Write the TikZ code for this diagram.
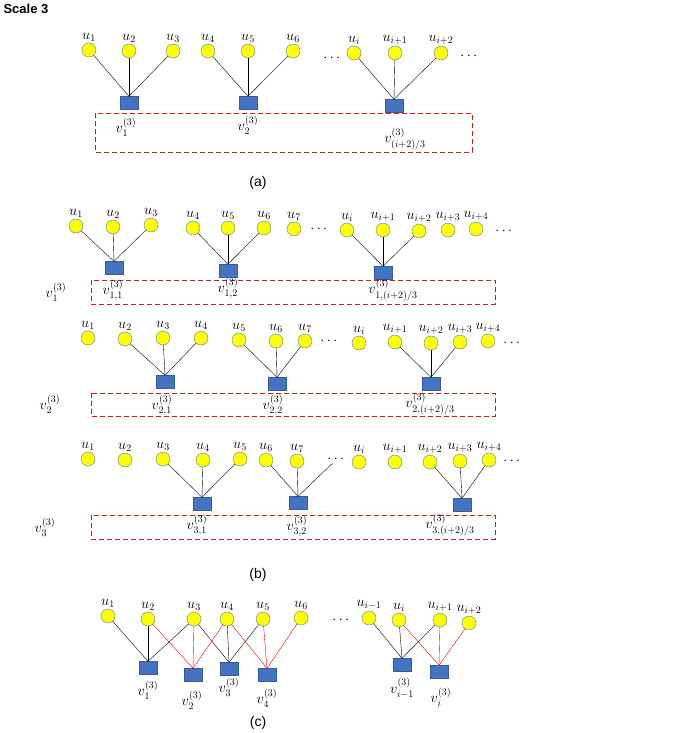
\documentclass[tikz,border=0pt]{standalone}
\usepackage{amsmath}
\usepackage{fix-cm}
\usepackage{fontspec}
\setsansfont{Liberation Sans}
\usepackage{tikz}
\definecolor{dotyellow}{rgb}{1,1,0}
\definecolor{boxblue}{rgb}{.27,.45,.77}
\definecolor{dashred}{rgb}{.85,.1,.1}
\tikzset{
  unode/.style={circle, fill=dotyellow, draw=boxblue!70!gray, thin, minimum size=14pt, inner sep=0pt},
  vnode/.style={rectangle, fill=boxblue, draw=boxblue!80!black, minimum width=18pt, minimum height=13pt, inner sep=0pt},
  ulab/.style={font=\Large, inner sep=1pt},
  vlab/.style={font=\Large},
  group/.style={color=dashred, thick, dash pattern=on 5pt off 3pt},
  edge/.style={black, thin},
  redge/.style={red, thin},
  subcap/.style={font=\sffamily\fontsize{14}{16}\selectfont}
}
\begin{document}
\begin{tikzpicture}[x=1pt, y=-1pt]
  \useasboundingbox (0,0) rectangle (685,733);
  \node[font=\sffamily\bfseries\fontsize{13}{15}\selectfont, anchor=west] (title) at (0,9) {Scale 3};

  % (a)
  \foreach \n/\x/\y/\t in {1/89/50/1, 2/129/51/2, 3/173/51/3, 4/208/51/4, 5/248/51/5, 6/293/51/6,
      7/354/53/i, 8/395/53/{i+1}, 9/441/53/{i+2}}
    \node[unode, label={[ulab]above:$u_{\t}$}] (a\n) at (\x,\y) {};
  \node[ulab] (adots1) at (333,58) {$\cdots$};
  \node[ulab] (adots2) at (470,56) {$\cdots$};
  \foreach \n/\x/\y in {1/129/103, 2/248/103, 3/394/106}
    \node[vnode] (av\n) at (\x,\y) {};
  \foreach \s/\t in {a1/av1, a2/av1, a3/av1, a4/av2, a5/av2, a6/av2, a7/av3, a8/av3, a9/av3}
    \draw[edge] (\s) -- (\t.north);
  \draw[group] (95,113) rectangle (472,152);
  \node[vlab] (al1) at (126,127) {$v_1^{(3)}$};
  \node[vlab] (al2) at (248,125) {$v_2^{(3)}$};
  \node[vlab] (al3) at (405,139) {$v_{(i+2)/3}^{(3)}$};
  \node[subcap] (capa) at (258,183) {(a)};

  % (b), first row
  \foreach \n/\x/\y/\t in {1/76/226/1, 2/113/227/2, 3/151/225/3, 4/193/228/4, 5/228/228/5, 6/264/228/6,
      7/294/229/7, 8/347/230/i, 9/383/230/{i+1}, 10/419/231/{i+2}, 11/448/230/{i+3}, 12/476/229/{i+4}}
    \node[unode, label={[ulab]above:$u_{\t}$}] (b\n) at (\x,\y) {};
  \node[ulab] (bdots1) at (320,229) {$\cdots$};
  \node[ulab] (bdots2) at (505,231) {$\cdots$};
  \foreach \n/\x/\y in {1/114/268, 2/228/271, 3/383/273}
    \node[vnode] (bv\n) at (\x,\y) {};
  \foreach \s/\t in {b1/bv1, b2/bv1, b3/bv1, b4/bv2, b5/bv2, b6/bv2, b8/bv3, b9/bv3, b10/bv3}
    \draw[edge] (\s) -- (\t.north);
  \draw[group] (91,280) rectangle (495,304);
  \node[vlab] (bl0) at (56,292) {$v_1^{(3)}$};
  \node[vlab] (bl1) at (113,290) {$v_{1,1}^{(3)}$};
  \node[vlab] (bl2) at (228,288) {$v_{1,2}^{(3)}$};
  \node[vlab] (bl3) at (393,290) {$v_{1,(i+2)/3}^{(3)}$};

  % (b), second row
  \foreach \n/\x/\y/\t in {1/88/338/1, 2/125/339/2, 3/163/338/3, 4/201/338/4, 5/239/340/5, 6/276/341/6,
      7/305/341/7, 8/359/343/i, 9/395/342/{i+1}, 10/431/343/{i+2}, 11/460/342/{i+3}, 12/488/341/{i+4}}
    \node[unode, label={[ulab]above:$u_{\t}$}] (c\n) at (\x,\y) {};
  \node[ulab] (cdots1) at (330,341) {$\cdots$};
  \node[ulab] (cdots2) at (513,343) {$\cdots$};
  \foreach \n/\x/\y in {1/165/382, 2/277/384, 3/431/384}
    \node[vnode] (cv\n) at (\x,\y) {};
  \foreach \s/\t in {c2/cv1, c3/cv1, c4/cv1, c5/cv2, c6/cv2, c7/cv2, c9/cv3, c10/cv3, c11/cv3}
    \draw[edge] (\s) -- (\t.north);
  \draw[group] (91,393) rectangle (495,416);
  \node[vlab] (cl0) at (50,404) {$v_2^{(3)}$};
  \node[vlab] (cl1) at (162,405) {$v_{2,1}^{(3)}$};
  \node[vlab] (cl2) at (273,405) {$v_{2,2}^{(3)}$};
  \node[vlab] (cl3) at (430,404) {$v_{2,(i+2)/3}^{(3)}$};

  % (b), third row
  \foreach \n/\x/\y/\t in {1/88/459/1, 2/125/460/2, 3/163/459/3, 4/203/460/4, 5/240/459/5, 6/266/460/6,
      7/297/461/7, 8/359/462/i, 9/395/462/{i+1}, 10/430/462/{i+2}, 11/460/461/{i+3}, 12/489/460/{i+4}}
    \node[unode, label={[ulab]above:$u_{\t}$}] (d\n) at (\x,\y) {};
  \node[ulab] (ddots1) at (337,459) {$\cdots$};
  \node[ulab] (ddots2) at (513,461) {$\cdots$};
  \foreach \n/\x/\y in {1/202/504, 2/298/503, 3/462/505}
    \node[vnode] (dv\n) at (\x,\y) {};
  \foreach \s/\t in {d3/dv1, d4/dv1, d5/dv1, d6/dv2, d7/dv2, ddots1/dv2, d10/dv3, d11/dv3, d12/dv3}
    \draw[edge] (\s) -- (\t.north);
  \draw[group] (91,515) rectangle (495,539);
  \node[vlab] (dl0) at (45,527) {$v_3^{(3)}$};
  \node[vlab] (dl1) at (197,525) {$v_{3,1}^{(3)}$};
  \node[vlab] (dl2) at (297,526) {$v_{3,2}^{(3)}$};
  \node[vlab] (dl3) at (450,525) {$v_{3,(i+2)/3}^{(3)}$};
  \node[subcap] (capb) at (258,575) {(b)};

  % (c)
  \foreach \n/\x/\y/\t in {1/108/616/1, 2/148/619/2, 3/194/619/3, 4/227/619/4, 5/263/619/5, 6/301/618/6,
      7/369/618/{i-1}, 8/399/620/i, 9/440/620/{i+1}, 10/469/623/{i+2}}
    \node[unode, label={[ulab]above:$u_{\t}$}] (e\n) at (\x,\y) {};
  \node[ulab] (edots) at (342,620) {$\cdots$};
  \foreach \n/\x/\y in {1/148/668, 2/193/675, 3/229/669, 4/267/675, 5/402/665, 6/439/672}
    \node[vnode] (ev\n) at (\x,\y) {};
  \foreach \s/\t in {e1/ev1, e2/ev1, e3/ev1, e3/ev3, e4/ev3, e5/ev3, e7/ev5, e8/ev5, e9/ev5}
    \draw[edge] (\s) -- (\t.north);
  \foreach \s/\t in {e2/ev2, e3/ev2, e4/ev2, e4/ev4, e5/ev4, e6/ev4, e8/ev6, e9/ev6, e10/ev6}
    \draw[redge] (\s) -- (\t.north);
  \node[vlab] (el1) at (148,690) {$v_1^{(3)}$};
  \node[vlab] (el2) at (192,700) {$v_2^{(3)}$};
  \node[vlab] (el3) at (229,687) {$v_3^{(3)}$};
  \node[vlab] (el4) at (267,698) {$v_4^{(3)}$};
  \node[vlab] (el5) at (402,688) {$v_{i-1}^{(3)}$};
  \node[vlab] (el6) at (441,697) {$v_i^{(3)}$};
  \node[subcap] (capc) at (258,723) {(c)};
\end{tikzpicture}
\end{document}
